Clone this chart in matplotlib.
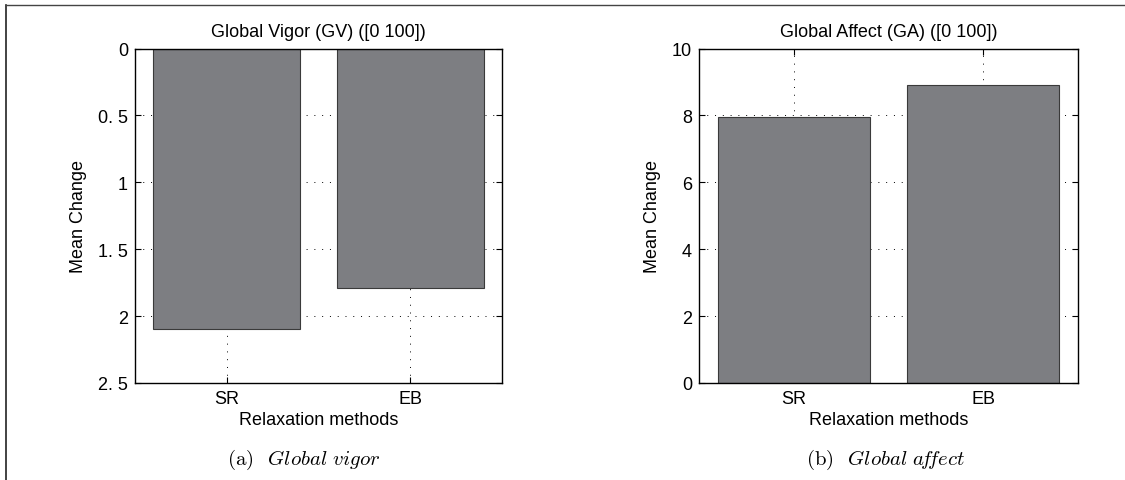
import matplotlib
matplotlib.use("Agg")
import matplotlib.pyplot as plt
from matplotlib.lines import Line2D

plt.rcParams['font.family'] = ['Liberation Sans', 'DejaVu Sans']
plt.rcParams['mathtext.fontset'] = 'cm'

methods = ["SR", "EB"]
vigor = [2.1, 1.79]
affect = [7.95, 8.9]
vigor_ticks = [0, 0.5, 1, 1.5, 2, 2.5]
vigor_labels = ["0", "0. 5", "1", "1. 5", "2", "2. 5"]
affect_ticks = [0, 2, 4, 6, 8, 10]
affect_labels = ["0", "2", "4", "6", "8", "10"]

bar_color = "#7d7e82"
edge_color = "#3a3a3a"

fig = plt.figure(figsize=(11.25, 4.81), dpi=100)
W, H = 1125.0, 481.0


def make_axes(x0, x1, y0, y1):
    return fig.add_axes([x0 / W, 1 - y1 / H, (x1 - x0) / W, (y1 - y0) / H])


def style(ax, title, ticks, labels, ylim):
    xs = list(range(1, len(methods) + 1))
    ax.set_axisbelow(True)
    ax.set_xlim(0.5, len(methods) + 0.5)
    ax.set_ylim(*ylim)
    ax.set_xticks(xs)
    ax.set_xticklabels(methods, fontsize=13)
    ax.set_yticks(ticks)
    ax.set_yticklabels(labels, fontsize=13)
    ax.tick_params(direction="in", top=True, right=True, length=4, width=0.8, pad=5)
    ax.grid(True, linestyle=(0, (1, 7)), color="black", linewidth=0.7)
    ax.set_title(title, fontsize=13, pad=9)
    ax.set_xlabel("Relaxation methods", fontsize=13, labelpad=3)
    ax.set_ylabel("Mean Change", fontsize=13, labelpad=8)
    for s in ax.spines.values():
        s.set_linewidth(1.0)


ax1 = make_axes(135, 502, 49.5, 384)
ax1.bar(range(1, len(methods) + 1), vigor, width=0.8, color=bar_color,
        edgecolor=edge_color, linewidth=0.8)
style(ax1, "Global Vigor (GV) ([0 100])", vigor_ticks, vigor_labels, (2.5, 0))

ax2 = make_axes(699, 1078, 49.5, 384)
ax2.bar(range(1, len(methods) + 1), affect, width=0.8, color=bar_color,
        edgecolor=edge_color, linewidth=0.8)
style(ax2, "Global Affect (GA) ([0 100])", affect_ticks, affect_labels, (0, 10))

# sub-figure captions
fig.text(304 / W, 1 - 460 / H, r"(a)  $\mathit{Global\ vigor}$", ha="center", va="center",
         fontsize=15, family="cmr10", math_fontfamily="cm")
fig.text(886 / W, 1 - 460 / H, r"(b)  $\mathit{Global\ a\!f\!fect}$", ha="center", va="center",
         fontsize=15, family="cmr10", math_fontfamily="cm")

# frame lines (left and top)
fig.add_artist(Line2D([5.5 / W, 5.5 / W], [0, 1 - 5.5 / H], color="#222222", linewidth=1.2))
fig.add_artist(Line2D([5.5 / W, 1], [1 - 5.5 / H, 1 - 5.5 / H], color="#444444", linewidth=1.0))

fig.savefig("out.png", dpi=100)
